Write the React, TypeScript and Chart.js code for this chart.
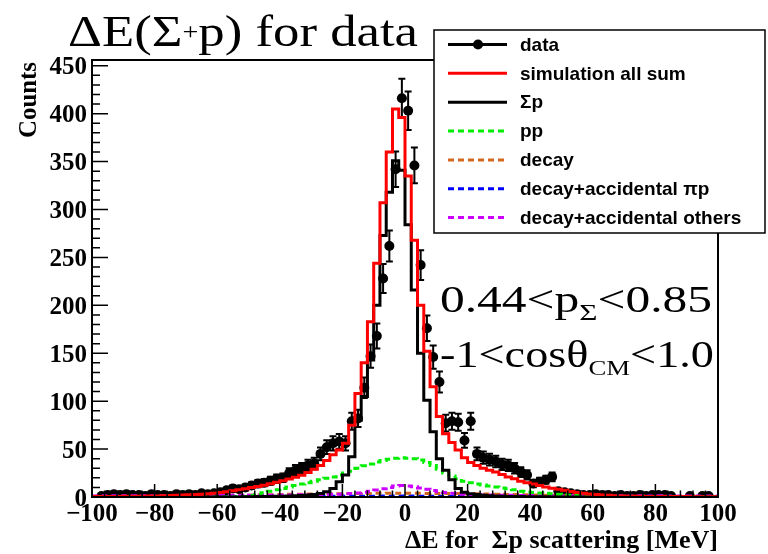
import React, { useEffect, useRef } from "react";
import { Chart, registerables } from "chart.js";
Chart.register(...registerables);

// Binning: 100 bins of 2 MeV from -100 to 100
const X_MIN = -100;
const X_MAX = 100;
const BIN_W = 2;
const Y_MIN = 0;
const Y_MAX = 456;
const X_TICKS = [-100, -80, -60, -40, -20, 0, 20, 40, 60, 80, 100];
const Y_TICKS = [0, 50, 100, 150, 200, 250, 300, 350, 400, 450];

// bin centers -99, -97, ..., 99 (10 per row)
const dataCounts = [
  0, 1, 2, 3, 2, 3, 2, 2, 1, 3,
  2, 2, 1, 3, 2, 3, 2, 4, 3, 4,
  5, 7, 9, 8, 10, 12, 14, 15, 17, 19,
  20, 25, 28, 30, 33, 35, 45, 52, 56, 58,
  56, 79, 82, 114, 147, 168, 228, 262, 342, 416,
  403, 346, 242, 176, 146, 120, 77, 79, 78, 59,
  79, 45, 41, 39, 37, 34, 33, 30, 26, 23,
  14, 16, 18, 21, 6, 5, 4, 3, 2, 2,
  3, 2, 2, 1, 2, 1, 1, 2, 1, 2,
  2, 2, 1, 0, 0, 1, 0, 1, 1, 0,
];

const simAllSum = [
  0.4, 0.4, 0.5, 0.5, 0.6, 0.6, 0.7, 0.7, 0.8, 0.9,
  1.0, 1.1, 1.3, 1.5, 1.7, 2.0, 2.3, 2.6, 3.0, 3.4,
  4.0, 4.6, 5.5, 6.5, 7.5, 8.5, 9.8, 11.0, 12.3, 13.8,
  15.3, 17.0, 18.7, 20.5, 22.8, 25.5, 29, 33, 38, 44,
  49, 56, 75, 108, 140, 183, 244, 307, 360, 405,
  396, 335, 268, 200, 152, 115, 84, 66, 57, 49,
  41, 36, 33, 30, 28, 26, 23.5, 21, 19, 16.5,
  15, 13.5, 12, 10.5, 9.2, 8, 7, 5.8, 4.8, 4,
  3.2, 2.6, 2.1, 1.7, 1.4, 1.1, 0.9, 0.8, 0.7, 0.6,
  0.5, 0.5, 0.5, 0.4, 0.4, 0.4, 0.4, 0.3, 0.3, 0.3,
];

const sigmaP = [
  0, 0, 0, 0, 0, 0, 0, 0, 0, 0,
  0, 0, 0, 0, 0, 0, 0, 0, 0, 0,
  0, 0, 0, 0, 0, 0.2, 0.3, 0.4, 0.5, 0.6,
  0.7, 0.8, 1.0, 1.3, 1.6, 2.0, 2.7, 3.6, 5.5, 9,
  16, 23, 42, 80, 105, 143, 200, 273, 318, 351,
  341, 284, 216, 150, 101, 68, 40, 28, 18, 9,
  5, 3.5, 2.5, 1.8, 1.3, 1.0, 0.8, 0.6, 0.5, 0.4,
  0.3, 0.3, 0.2, 0.2, 0.1, 0.1, 0, 0, 0, 0,
  0, 0, 0, 0, 0, 0, 0, 0, 0, 0,
  0, 0, 0, 0, 0, 0, 0, 0, 0, 0,
];

const ppHist = [
  0, 0, 0, 0, 0, 0, 0, 0, 0, 0,
  0, 0, 0, 0, 0, 0, 0, 0, 0, 0,
  0, 0, 0, 0, 0, 0.5, 1.5, 3, 4.5, 6,
  7.5, 9, 10.5, 12, 13.5, 15, 16.5, 18, 19.5, 21,
  23, 25, 27, 30, 32.5, 34.5, 36.5, 38, 39.5, 40.5,
  41, 40.5, 40, 38.5, 36, 33, 29, 25, 22, 19,
  16.5, 15, 13.5, 12.5, 11.5, 10.5, 9.5, 8.5, 7.5, 6,
  5.3, 4.7, 4.2, 3.8, 3.3, 2.8, 2.3, 1.9, 1.5, 1,
  0.6, 0.3, 0.1, 0, 0, 0, 0, 0, 0, 0,
  0, 0, 0, 0, 0, 0, 0, 0, 0, 0,
];

const decayHist = [
  0.6, 0.7, 0.5, 0.8, 0.6, 0.7, 0.9, 0.6, 0.8, 0.7,
  0.9, 0.8, 1.0, 0.9, 1.1, 1.0, 1.2, 1.1, 1.3, 1.2,
  1.4, 1.3, 1.5, 1.6, 1.8, 1.7, 1.9, 2.1, 2.2, 2.4,
  2.5, 2.6, 2.8, 2.9, 3.0, 3.1, 3.2, 3.3, 3.4, 3.5,
  3.5, 3.6, 3.7, 3.6, 3.8, 3.7, 3.9, 3.8, 3.9, 4.0,
  3.9, 4.0, 3.8, 3.9, 3.7, 3.8, 3.6, 3.7, 3.5, 3.6,
  3.4, 3.5, 3.3, 3.2, 3.1, 3.0, 2.9, 2.7, 2.6, 2.4,
  2.3, 2.1, 2.0, 1.8, 1.7, 1.5, 1.4, 1.3, 1.2, 1.1,
  1.0, 0.9, 1.0, 0.8, 0.9, 0.7, 0.8, 0.7, 0.6, 0.7,
  0.6, 0.5, 0.7, 0.6, 0.5, 0.6, 0.5, 0.4, 0.5, 0.4,
];

const decayAccPiP = [
  0.1, 0.2, 0.1, 0.1, 0.2, 0.1, 0.2, 0.1, 0.2, 0.2,
  0.2, 0.1, 0.2, 0.2, 0.3, 0.2, 0.2, 0.3, 0.2, 0.3,
  0.3, 0.3, 0.4, 0.3, 0.4, 0.4, 0.5, 0.4, 0.5, 0.5,
  0.5, 0.6, 0.5, 0.6, 0.6, 0.7, 0.6, 0.7, 0.7, 0.8,
  0.7, 0.8, 0.8, 0.9, 0.8, 0.9, 0.9, 1.0, 0.9, 1.0,
  1.0, 0.9, 1.0, 0.9, 0.9, 0.8, 0.9, 0.8, 0.8, 0.7,
  0.7, 0.7, 0.6, 0.6, 0.6, 0.5, 0.5, 0.5, 0.4, 0.4,
  0.4, 0.4, 0.3, 0.3, 0.3, 0.3, 0.2, 0.3, 0.2, 0.2,
  0.2, 0.2, 0.2, 0.1, 0.2, 0.1, 0.2, 0.1, 0.1, 0.2,
  0.1, 0.1, 0.2, 0.1, 0.1, 0.1, 0.1, 0.1, 0.1, 0.1,
];

const decayAccOthers = [
  1.2, 1.0, 1.3, 1.1, 1.2, 1.0, 1.4, 1.2, 1.1, 1.3,
  1.2, 1.4, 1.3, 1.2, 1.5, 1.3, 1.4, 1.6, 1.5, 1.5,
  1.5, 1.6, 1.5, 1.7, 1.6, 1.7, 1.8, 1.7, 1.8, 1.9,
  1.9, 2.0, 2.1, 2.2, 2.3, 2.4, 2.5, 2.6, 2.7, 2.8,
  3.0, 3.3, 3.7, 4.2, 5.0, 6.0, 7.3, 8.6, 10.0, 11.5,
  12.0, 11.5, 10.8, 9.5, 8.0, 6.8, 5.6, 4.6, 3.8, 3.2,
  2.8, 2.5, 2.3, 2.1, 2.0, 1.9, 1.8, 1.7, 1.6, 1.6,
  1.5, 1.5, 1.4, 1.4, 1.4, 1.3, 1.3, 1.3, 1.3, 1.2,
  1.3, 1.2, 1.2, 1.1, 1.3, 1.2, 1.1, 1.0, 1.2, 1.1,
  1.0, 1.2, 1.1, 1.0, 1.1, 0.9, 1.0, 1.1, 0.9, 1.0,
];

const legendLabels = [
  "data",
  "simulation all sum",
  "Σp",
  "pp",
  "decay",
  "decay+accidental πp",
  "decay+accidental others",
];

const COLORS = {
  data: "#000000",
  sim: "#ff0000",
  sigmaP: "#000000",
  pp: "#00ee00",
  decay: "#d2691e",
  pip: "#0000ff",
  others: "#cc00ff",
};

const binCenter = (i: number) => X_MIN + BIN_W * (i + 0.5);

function histPoints(vals: number[]) {
  const pts = vals.map((v, i) => ({ x: X_MIN + BIN_W * i, y: v }));
  pts.push({ x: X_MAX, y: vals[vals.length - 1] });
  return pts;
}

const SERIF = '"Liberation Serif", "Times New Roman", serif';
const SANS = '"Liberation Sans", Arial, sans-serif';

type Part = { t: string; font: string; dy: number };

function fitParts(ctx: CanvasRenderingContext2D, parts: Part[], x: number, baseline: number, targetW: number) {
  let total = 0;
  const ws = parts.map((p) => {
    ctx.font = p.font;
    const w = ctx.measureText(p.t).width;
    total += w;
    return w;
  });
  const s = targetW / total;
  ctx.save();
  ctx.translate(x, baseline);
  ctx.scale(s, 1);
  ctx.textAlign = "left";
  ctx.textBaseline = "alphabetic";
  let cx = 0;
  parts.forEach((p, i) => {
    ctx.font = p.font;
    ctx.fillText(p.t, cx, p.dy);
    cx += ws[i];
  });
  ctx.restore();
}

const rootPlugin = {
  id: "rootStyle",
  beforeDatasetsDraw(chart: any) {
    const { ctx } = chart;
    const xs = chart.scales.x;
    const ys = chart.scales.y;
    ctx.save();
    ctx.strokeStyle = COLORS.data;
    ctx.lineWidth = 2;
    dataCounts.forEach((n, i) => {
      if (n <= 0) return;
      const c = binCenter(i);
      const px = xs.getPixelForValue(c);
      const e = Math.sqrt(n);
      const yt = ys.getPixelForValue(n + e);
      const yb = ys.getPixelForValue(Math.max(0, n - e));
      const py = ys.getPixelForValue(n);
      ctx.beginPath();
      ctx.moveTo(px, yt);
      ctx.lineTo(px, yb);
      ctx.moveTo(px - 3.5, yt);
      ctx.lineTo(px + 3.5, yt);
      ctx.moveTo(px - 3.5, yb);
      ctx.lineTo(px + 3.5, yb);
      ctx.moveTo(xs.getPixelForValue(c - BIN_W / 2), py);
      ctx.lineTo(xs.getPixelForValue(c + BIN_W / 2), py);
      ctx.stroke();
    });
    ctx.restore();
  },
  afterDraw(chart: any) {
    const { ctx, chartArea } = chart;
    const xs = chart.scales.x;
    const ys = chart.scales.y;
    const { left, right, top, bottom } = chartArea;
    ctx.save();

    // frame
    ctx.strokeStyle = "#000";
    ctx.lineWidth = 2;
    ctx.strokeRect(left, top, right - left, bottom - top);

    // y ticks (inward, left side)
    ctx.lineWidth = 1.5;
    ctx.beginPath();
    for (let v = Y_MIN; v <= Y_MAX; v += 10) {
      const py = ys.getPixelForValue(v);
      const major = v % 50 === 0;
      ctx.moveTo(left, py);
      ctx.lineTo(left + (major ? 16 : 8), py);
    }
    // x ticks (inward, bottom)
    for (let v = X_MIN; v <= X_MAX; v += 4) {
      const px = xs.getPixelForValue(v);
      const major = v % 20 === 0;
      ctx.moveTo(px, bottom);
      ctx.lineTo(px, bottom - (major ? 13 : 6.5));
    }
    ctx.stroke();

    // tick labels
    ctx.fillStyle = "#000";
    ctx.font = `bold 25px ${SERIF}`;
    ctx.textBaseline = "alphabetic";
    ctx.textAlign = "right";
    Y_TICKS.forEach((v) => {
      ctx.fillText(String(v), left - 5, ys.getPixelForValue(v) + 8.5);
    });
    ctx.textAlign = "center";
    X_TICKS.forEach((v) => {
      const label = v < 0 ? "\u2212" + Math.abs(v) : String(v);
      ctx.fillText(label, xs.getPixelForValue(v), bottom + 24);
    });

    // axis titles
    const xTitle = "ΔE for  Σp scattering [MeV]";
    fitParts(ctx, [{ t: xTitle, font: `bold 25px ${SERIF}`, dy: 0 }], right - 313, 548, 313);
    ctx.save();
    ctx.translate(36, top + 2);
    ctx.rotate(-Math.PI / 2);
    fitParts(ctx, [{ t: "Counts", font: `bold 25px ${SERIF}`, dy: 0 }], -76, 0, 76);
    ctx.restore();

    // main title
    fitParts(
      ctx,
      [
        { t: "ΔE(Σ", font: `45px ${SERIF}`, dy: 0 },
        { t: "+", font: `24px ${SERIF}`, dy: -7 },
        { t: "p) for data", font: `45px ${SERIF}`, dy: 0 },
      ],
      68,
      46,
      350
    );

    // annotations
    fitParts(
      ctx,
      [
        { t: "0.44<p", font: `38px ${SERIF}`, dy: 0 },
        { t: "Σ", font: `24px ${SERIF}`, dy: 8 },
        { t: "<0.85", font: `38px ${SERIF}`, dy: 0 },
      ],
      440,
      312,
      272
    );
    fitParts(
      ctx,
      [
        { t: "-1<cosθ", font: `38px ${SERIF}`, dy: 0 },
        { t: "CM", font: `22px ${SERIF}`, dy: 8 },
        { t: "<1.0", font: `38px ${SERIF}`, dy: 0 },
      ],
      440,
      367,
      274
    );

    // legend box
    const lx = 434, ly = 30, lw = 331, lh = 203;
    ctx.fillStyle = "#fff";
    ctx.fillRect(lx, ly, lw, lh);
    ctx.strokeStyle = "#000";
    ctx.lineWidth = 1.5;
    ctx.strokeRect(lx, ly, lw, lh);

    const rowColors = [COLORS.data, COLORS.sim, COLORS.sigmaP, COLORS.pp, COLORS.decay, COLORS.pip, COLORS.others];
    const dashed = [false, false, false, true, true, true, true];
    legendLabels.forEach((lab, k) => {
      const ry = 44.5 + k * 28.85;
      ctx.strokeStyle = rowColors[k];
      ctx.lineWidth = 3;
      ctx.setLineDash(dashed[k] ? [6, 4] : []);
      ctx.beginPath();
      ctx.moveTo(448, ry);
      ctx.lineTo(507, ry);
      ctx.stroke();
      ctx.setLineDash([]);
      if (k === 0) {
        ctx.fillStyle = "#000";
        ctx.beginPath();
        ctx.arc(478, ry, 5, 0, Math.PI * 2);
        ctx.fill();
      }
      ctx.fillStyle = "#000";
      ctx.font = `bold 19px ${SANS}`;
      ctx.textAlign = "left";
      ctx.textBaseline = "middle";
      ctx.fillText(lab, 520, ry + 1);
    });

    ctx.restore();
  },
};

export default function App() {
  const ref = useRef<HTMLCanvasElement | null>(null);
  useEffect(() => {
    if (!ref.current) return;
    const histDs = (label: string, vals: number[], color: string, dash: number[], order: number, width = 3) => ({
      label,
      data: histPoints(vals),
      borderColor: color,
      backgroundColor: color,
      borderWidth: width,
      borderDash: dash,
      stepped: "after" as const,
      pointRadius: 0,
      fill: false,
      order,
      borderJoinStyle: "miter" as const,
    });
    const chart = new Chart(ref.current, {
      type: "line",
      data: {
        datasets: [
          {
            label: "data",
            data: dataCounts.map((n, i) => ({ x: binCenter(i), y: n })),
            showLine: false,
            pointRadius: (c: any) => (c.raw && c.raw.y > 0 ? 5 : 0),
            pointBackgroundColor: COLORS.data,
            pointBorderColor: COLORS.data,
            pointBorderWidth: 0,
            order: 10,
          } as any,
          histDs("decay+accidental πp", decayAccPiP, COLORS.pip, [6, 4], 7),
          histDs("decay", decayHist, COLORS.decay, [6, 4], 6),
          histDs("decay+accidental others", decayAccOthers, COLORS.others, [6, 4], 5),
          histDs("pp", ppHist, COLORS.pp, [6, 4], 4),
          histDs("Σp", sigmaP, COLORS.sigmaP, [], 3),
          histDs("simulation all sum", simAllSum, COLORS.sim, [], 2),
        ],
      },
      options: {
        responsive: false,
        animation: false,
        devicePixelRatio: 1,
        layout: { padding: { left: 92, right: 50, top: 60, bottom: 57 } },
        scales: {
          x: { type: "linear", min: X_MIN, max: X_MAX, display: false },
          y: { type: "linear", min: Y_MIN, max: Y_MAX, display: false },
        },
        plugins: { legend: { display: false }, tooltip: { enabled: false }, title: { display: false } },
        elements: { line: { tension: 0 } },
      },
      plugins: [rootPlugin],
    } as any);
    return () => chart.destroy();
  }, []);
  return (
    <div style={{ position: "absolute", left: 0, top: 0, width: 768, height: 554, background: "#fff" }}>
      <canvas ref={ref} width={768} height={554} style={{ width: 768, height: 554, display: "block" }} />
    </div>
  );
}
